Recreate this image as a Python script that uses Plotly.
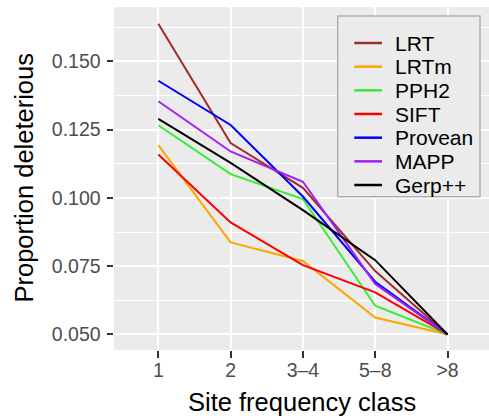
import plotly.graph_objects as go

# ---- data ----
categories = ["1", "2", "3–4", "5–8", ">8"]
series_names = ["LRT", "LRTm", "PPH2", "SIFT", "Provean", "MAPP", "Gerp++"]
lrt = [0.1638, 0.1201, 0.1037, 0.0732, 0.050]
lrtm = [0.1193, 0.0837, 0.0769, 0.0562, 0.050]
pph2 = [0.1266, 0.1087, 0.0996, 0.0605, 0.050]
sift = [0.1159, 0.0910, 0.0754, 0.0654, 0.050]
provean = [0.1429, 0.1267, 0.1005, 0.0693, 0.050]
mapp = [0.1354, 0.1170, 0.1059, 0.0685, 0.050]
gerp = [0.1289, 0.1128, 0.0955, 0.0772, 0.050]
y_ticks = [0.050, 0.075, 0.100, 0.125, 0.150]
y_minor = [0.0625, 0.0875, 0.1125, 0.1375, 0.1625]

values = [lrt, lrtm, pph2, sift, provean, mapp, gerp]
colors = ["#a52a2a", "#ffa500", "#33ee33", "#ff0000", "#0000ff", "#a020f0", "#000000"]

FONT = "Liberation Sans, Arial, sans-serif"
W, H = 489, 416
L, R, T, B = 114, 0, 7, 66
PW, PH = W - L - R, H - T - B


def px_x(px):
    return (px - L) / PW


def px_y(py):
    return (H - B - py) / PH


fig = go.Figure()
for name, vals, col in zip(series_names, values, colors):
    fig.add_trace(go.Scatter(x=categories, y=vals, mode="lines", name=name,
                             line=dict(color=col, width=2), showlegend=False))

fig.update_layout(
    width=W, height=H,
    margin=dict(l=L, r=R, t=T, b=B, pad=0),
    paper_bgcolor="white", plot_bgcolor="#ebebeb",
    font=dict(family=FONT),
)
fig.update_xaxes(
    type="category", range=[-0.613, 4.574],
    showgrid=True, gridcolor="white", gridwidth=1.6,
    ticks="outside", ticklen=6.5, tickwidth=1.6, tickcolor="#333333",
    tickfont=dict(size=19.5, color="#4d4d4d", family=FONT),
    ticklabelstandoff=-4,
    showline=False, zeroline=False,
)
fig.update_yaxes(
    range=[0.0443, 0.1699],
    tickvals=y_ticks, ticktext=[f"{v:.3f}" for v in y_ticks],
    showgrid=True, gridcolor="white", gridwidth=1.6,
    minor=dict(tickvals=y_minor, showgrid=True, gridcolor="white", gridwidth=0.8, ticklen=0),
    ticks="outside", ticklen=6.5, tickwidth=1.6, tickcolor="#333333",
    tickfont=dict(size=19.5, color="#4d4d4d", family=FONT),
    ticklabelstandoff=2,
    showline=False, zeroline=False,
)

# axis titles
fig.add_annotation(text="Site frequency class", xref="paper", yref="paper",
                   x=0.5, y=px_y(401.5), xanchor="center", yanchor="middle",
                   showarrow=False, font=dict(size=25.5, color="black", family=FONT))
fig.add_annotation(text="Proportion deleterious", xref="paper", yref="paper",
                   x=px_x(23), y=px_y(178.5), xanchor="center", yanchor="middle",
                   textangle=-90, showarrow=False,
                   font=dict(size=25.5, color="black", family=FONT))

# legend (manual, ggplot style)
fig.add_shape(type="rect", xref="paper", yref="paper",
              x0=px_x(337.7), x1=px_x(480), y0=px_y(196.7), y1=px_y(16),
              fillcolor="#ebebeb", line=dict(color="#b0b0b0", width=1.5), layer="above")
key_y0, key_dy = 43.0, 23.67
for i, (name, col) in enumerate(zip(series_names, colors)):
    yy = key_y0 + i * key_dy
    fig.add_shape(type="line", xref="paper", yref="paper",
                  x0=px_x(354.3), x1=px_x(382.0), y0=px_y(yy), y1=px_y(yy),
                  line=dict(color=col, width=2.5), layer="above")
    fig.add_annotation(text=name, xref="paper", yref="paper",
                       x=px_x(393), y=px_y(yy), xanchor="left", yanchor="middle",
                       showarrow=False, font=dict(size=21, color="black", family=FONT))

fig.write_html("out.html")
